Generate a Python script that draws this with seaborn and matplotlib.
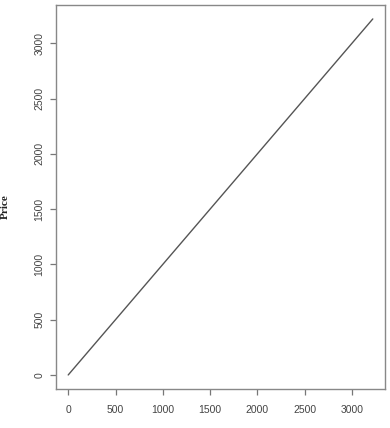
import matplotlib
matplotlib.use("Agg")
import matplotlib.pyplot as plt
import seaborn as sns
import pandas as pd
from matplotlib import font_manager

x_vals = [0, 3220]
price = [0, 3220]
x_ticks = [0, 500, 1000, 1500, 2000, 2500, 3000]
y_ticks = [0, 500, 1000, 1500, 2000, 2500, 3000]

sns.set_style("ticks")
names = {f.name for f in font_manager.fontManager.ttflist}
tick_family = ['Liberation Sans Narrow', 'DejaVu Sans'] if 'Liberation Sans Narrow' in names else ['Liberation Sans', 'DejaVu Sans']
plt.rcParams['font.family'] = tick_family

fig = plt.figure(figsize=(3.9, 4.28), dpi=100)
ax = fig.add_axes([56/390, 39/428, 329/390, 384/428])

df = pd.DataFrame({"x": x_vals, "Price": price})
sns.lineplot(data=df, x="x", y="Price", ax=ax, color="#555555", linewidth=1.0)

ax.set_xlim(-129, 3349)
ax.set_ylim(-127, 3346)
ax.set_xticks(x_ticks)
ax.set_yticks(y_ticks)
fs = 9 if 'Narrow' in tick_family[0] else 7.5
ax.set_xticklabels([str(t) for t in x_ticks], fontsize=fs, color="#444444")
ax.set_yticklabels([str(t) for t in y_ticks], fontsize=fs, color="#444444",
                   rotation=90, va="center")
ax.tick_params(axis="both", length=4.3, width=0.9, color="#777777")
ax.tick_params(axis="x", pad=7.5)
ax.tick_params(axis="y", pad=4)
for s in ax.spines.values():
    s.set_visible(True)
    s.set_color("#888888")
    s.set_linewidth(1.0)
ax.set_xlabel("")
ax.set_ylabel("Price", fontsize=8, fontweight="bold", family=["Liberation Serif", "DejaVu Serif"],
              color="#222222")
ax.yaxis.set_label_coords(-0.14, 0.475)
fig.savefig("out.png", dpi=100)
